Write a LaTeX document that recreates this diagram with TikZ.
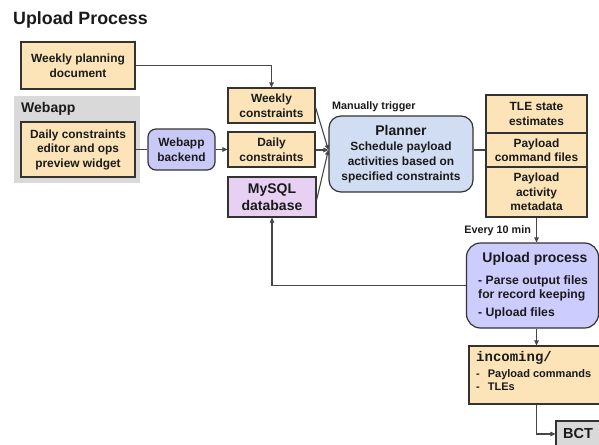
\documentclass[tikz,border=0pt]{standalone}
\usepackage{fontspec}
\setmainfont{Liberation Sans}
\setmonofont{Liberation Mono}
\usetikzlibrary{arrows.meta}
\definecolor{orangebox}{HTML}{FCE4B8}
\definecolor{graybox}{HTML}{D9D9D9}
\definecolor{lavbox}{HTML}{C9C9F8}
\definecolor{bluebox}{HTML}{D0DDF2}
\definecolor{upbox}{HTML}{CCCCFF}
\definecolor{dbbox}{HTML}{E8D0F3}
\definecolor{edge}{HTML}{333333}
\definecolor{txt}{HTML}{1A1A1A}
\newcommand{\fs}[2]{\fontsize{#1}{#2}\selectfont}
\tikzset{
  every node/.style={font=\bfseries\fs{11.9}{14.5}, text=txt, inner sep=0pt, align=center},
  box/.style={draw=edge, line width=1.2pt, fill=orangebox},
  rbox/.style={draw=edge, line width=1.2pt, rounded corners=#1},
  conn/.style={draw=edge!90, line width=1.1pt},
  arr/.style={conn, -{Triangle[length=5pt,width=4.5pt]}},
  lbl/.style={font=\bfseries\fs{10.8}{12}}
}
\begin{document}
\begin{tikzpicture}[x=1pt,y=-1pt]
\useasboundingbox (0,0) rectangle (599,444);
% title
\node[anchor=west, font=\bfseries\fs{17.8}{20}] (title) at (13,20) {Upload Process};
% left column
\node[box, minimum width=114pt, minimum height=47pt] (wpd) at (78,65.5) {Weekly planning\\document};
\node[fill=graybox, minimum width=126pt, minimum height=87pt] (webapp) at (77,139.5) {};
\node[anchor=north west, font=\bfseries\fs{14}{15}] (webappT) at (21,102) {Webapp};
\node[box, minimum width=114pt, minimum height=55pt] (dce) at (78,149.5) {Daily constraints\\editor and ops\\preview widget};
\node[rbox=8pt, fill=lavbox, minimum width=67pt, minimum height=41pt] (wab) at (181.5,149.5) {Webapp\\backend};
% middle column
\node[box, minimum width=87pt, minimum height=35pt] (wc) at (271.5,105.5) {Weekly\\constraints};
\node[box, minimum width=87pt, minimum height=35pt] (dc) at (271.5,149.5) {Daily\\constraints};
\node[box, fill=dbbox, minimum width=88pt, minimum height=40pt, font=\bfseries\fs{14}{17}] (db) at (272,197) {MySQL\\database};
% planner
\node[rbox=12pt, fill=bluebox, minimum width=144pt, minimum height=76pt, font=\bfseries\fs{11.9}{15}] (planner) at (401,154)
  {{\fs{14}{16}Planner}\\Schedule payload\\activities based on\\specified constraints};
\node[lbl, anchor=south west] (mt) at (332,112) {Manually trigger};
% right column
\node[box, minimum width=101pt, minimum height=38pt] (tle) at (536.5,114) {TLE state\\estimates};
\node[box, minimum width=101pt, minimum height=34pt] (pcf) at (536.5,150) {Payload\\command files};
\node[box, minimum width=101pt, minimum height=50pt] (pam) at (536.5,192) {Payload\\activity\\metadata};
% upload process
\node[rbox=14pt, fill=upbox, minimum width=132pt, minimum height=85pt] (up) at (532.5,285.5) {};
\node[font=\bfseries\fs{14}{16}] (upT) at (535,259) {Upload process};
\node[anchor=north west, align=left, font=\bfseries\fs{12.2}{14}] (upB) at (478,275)
  {- Parse output files\\for record keeping\\[4pt]- Upload files};
% incoming
\node[box, minimum width=131pt, minimum height=58pt] (inc) at (534.5,375) {};
\node[anchor=north west, align=left, font=\bfseries\fs{11}{13.5}] (incT) at (476,351)
  {{\ttfamily\fs{14}{14}incoming/}\\[2.5pt]-\hspace{8pt}Payload commands\\-\hspace{8pt}TLEs};
% BCT
\node[box, fill=graybox, minimum width=44pt, minimum height=26pt, font=\bfseries\fs{14.5}{15}] (bct) at (578,434) {BCT};
% connectors
\coordinate (conv) at ([yshift=4pt]planner.west);
\draw[arr] (wpd.east) -| (wc.north);
\draw[conn] (dce.east) -- (wab.west);
\draw[arr] (wab.east) -- (dc.west);
\draw[arr] ([yshift=-2pt]wc.east) -- (conv);
\draw[arr] (dc.east |- conv) -- (conv);
\draw[arr] ([yshift=-3pt]db.east) -- (conv);
\draw[conn] (planner.east |- pcf.west) -- (pcf.west);
\draw[arr] (pam.south) -- (pam.south |- up.north) node[lbl, anchor=south east, pos=0.75, xshift=-5pt] (every) {Every 10 min};
\draw[arr] (up.west) -| (db.south);
\draw[arr] (pam.south |- up.south) -- (pam.south |- inc.north);
\draw[arr] (pam.south |- inc.south) |- (bct.west);
\end{tikzpicture}
\end{document}
